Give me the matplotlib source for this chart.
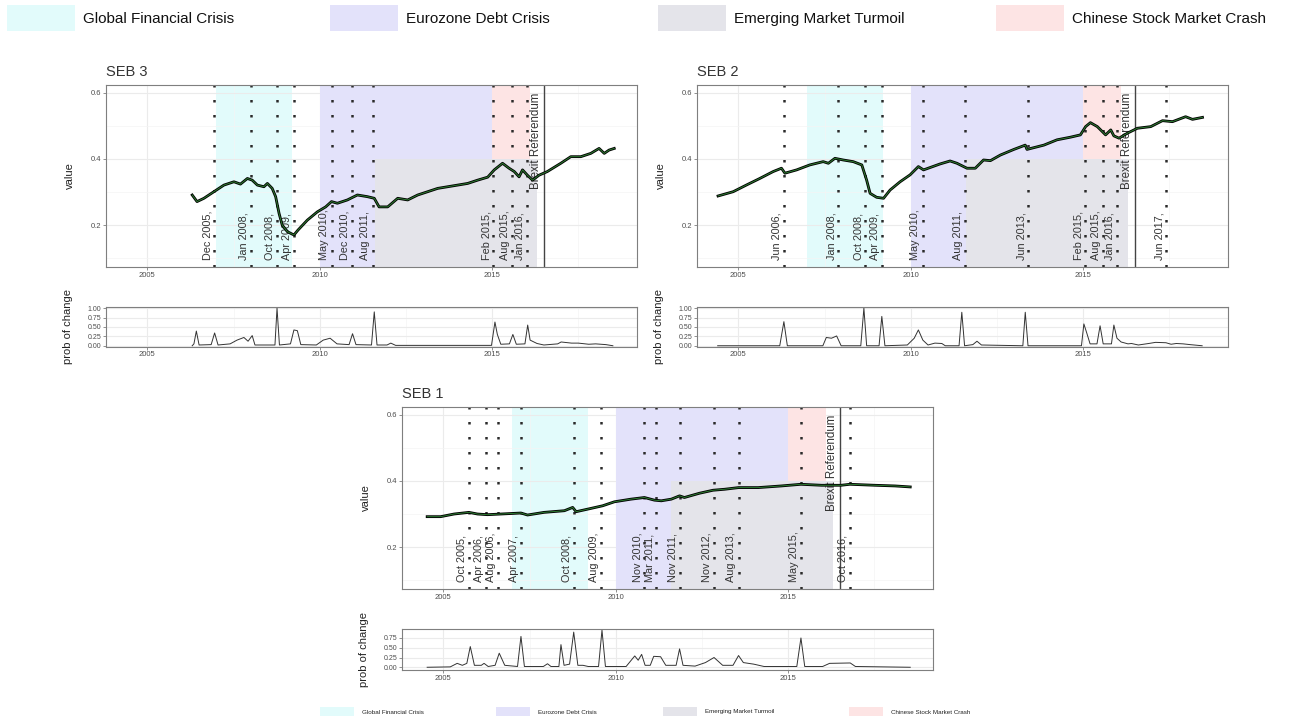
import matplotlib
matplotlib.use("Agg")
import matplotlib.pyplot as plt
from matplotlib.ticker import MultipleLocator

W, H = 1311, 722
plt.rcParams['font.family'] = ['Liberation Sans', 'DejaVu Sans']

# crisis periods (shared by all panels)
crisis_names = ["Global Financial Crisis", "Eurozone Debt Crisis",
                "Emerging Market Turmoil", "Chinese Stock Market Crash"]
crisis_colors = ["#e2fbfb", "#e3e2fa", "#e4e4ea", "#fde4e4"]
crisis_start = [2007.0, 2010.0, 2011.6, 2015.0]
crisis_end = [2009.2, 2015.0, 2016.3, 2016.1]
crisis_top = [0.7, 0.7, 0.4, 0.7]
brexit = 2016.5

# ---- SEB 3 ----
seb3_year = [2006.30, 2006.44, 2006.64, 2006.93, 2007.22, 2007.51, 2007.70, 2007.90,
             2008.04, 2008.19, 2008.38, 2008.48, 2008.62, 2008.72, 2008.82, 2008.91,
             2009.06, 2009.25, 2009.37, 2009.64, 2009.93, 2010.17, 2010.34, 2010.51,
             2010.80, 2011.09, 2011.38, 2011.58, 2011.72, 2011.97, 2012.26, 2012.55,
             2012.84, 2013.13, 2013.42, 2013.71, 2014.00, 2014.29, 2014.58, 2014.87,
             2015.06, 2015.30, 2015.49, 2015.64, 2015.78, 2015.88, 2016.02, 2016.17,
             2016.36, 2016.60, 2016.99, 2017.28, 2017.57, 2017.86, 2018.10, 2018.25,
             2018.39, 2018.54]
seb3_value = [0.291, 0.271, 0.281, 0.301, 0.321, 0.331, 0.324, 0.341,
              0.336, 0.321, 0.316, 0.326, 0.311, 0.286, 0.235, 0.200,
              0.180, 0.170, 0.185, 0.215, 0.240, 0.255, 0.271, 0.266,
              0.276, 0.291, 0.286, 0.281, 0.255, 0.255, 0.281, 0.276,
              0.291, 0.301, 0.311, 0.316, 0.321, 0.326, 0.336, 0.345,
              0.367, 0.387, 0.372, 0.362, 0.346, 0.367, 0.351, 0.336,
              0.351, 0.362, 0.387, 0.407, 0.407, 0.417, 0.432, 0.417,
              0.427, 0.432]
seb3_prob_year = [2006.30, 2006.35, 2006.42, 2006.50, 2006.85, 2006.95, 2007.05, 2007.40,
                  2007.60, 2007.80, 2007.92, 2008.04, 2008.12, 2008.70, 2008.76, 2008.83,
                  2009.15, 2009.25, 2009.35, 2009.45, 2009.90, 2010.10, 2010.30, 2010.50,
                  2010.85, 2010.95, 2011.05, 2011.50, 2011.58, 2011.66, 2011.95, 2012.06,
                  2012.20, 2014.98, 2015.08, 2015.15, 2015.25, 2015.50, 2015.60, 2015.70,
                  2015.95, 2016.03, 2016.10, 2016.30, 2016.50, 2016.90, 2017.00, 2017.30,
                  2017.50, 2017.80, 2018.00, 2018.30, 2018.50]
seb3_prob = [0.0, 0.05, 0.39, 0.02, 0.03, 0.34, 0.02, 0.05,
             0.15, 0.22, 0.12, 0.27, 0.02, 0.02, 1.00, 0.02,
             0.05, 0.42, 0.40, 0.03, 0.02, 0.15, 0.20, 0.05,
             0.03, 0.32, 0.03, 0.02, 0.90, 0.02, 0.02, 0.07,
             0.01, 0.01, 0.63, 0.30, 0.04, 0.05, 0.30, 0.04,
             0.05, 0.55, 0.15, 0.06, 0.02, 0.05, 0.10, 0.07,
             0.07, 0.04, 0.05, 0.03, 0.0]
seb3_breaks = [2006.94, 2008.00, 2008.76, 2009.25, 2010.34, 2010.92, 2011.53,
               2015.03, 2015.58, 2016.00]
seb3_labels = ["Dec 2005,", "Jan 2008,", "Oct 2008,", "Apr 2009,", "May 2010,",
               "Dec 2010,", "Aug 2011,", "Feb 2015,", "Aug 2015,", "Jan 2016,"]

# ---- SEB 2 ----
seb2_year = [2004.41, 2004.85, 2005.23, 2005.62, 2006.01, 2006.25, 2006.35, 2006.69,
             2007.07, 2007.46, 2007.61, 2007.80, 2008.04, 2008.33, 2008.58, 2008.72,
             2008.82, 2009.01, 2009.21, 2009.40, 2009.69, 2009.98, 2010.22, 2010.37,
             2010.85, 2011.14, 2011.34, 2011.63, 2011.87, 2012.11, 2012.31, 2012.60,
             2012.99, 2013.32, 2013.37, 2013.86, 2014.24, 2014.63, 2014.92, 2015.07,
             2015.21, 2015.41, 2015.65, 2015.80, 2015.89, 2016.04, 2016.28, 2016.57,
             2016.96, 2017.30, 2017.59, 2017.97, 2018.17, 2018.46]
seb2_value = [0.288, 0.301, 0.321, 0.341, 0.362, 0.372, 0.357, 0.367,
              0.382, 0.392, 0.387, 0.402, 0.397, 0.392, 0.382, 0.336,
              0.296, 0.284, 0.281, 0.306, 0.331, 0.352, 0.377, 0.367,
              0.385, 0.394, 0.387, 0.372, 0.372, 0.397, 0.395, 0.412,
              0.429, 0.442, 0.429, 0.442, 0.458, 0.466, 0.473, 0.498,
              0.510, 0.498, 0.473, 0.488, 0.470, 0.463, 0.478, 0.493,
              0.498, 0.516, 0.513, 0.528, 0.520, 0.526]
seb2_prob_year = [2004.40, 2006.20, 2006.32, 2006.42, 2007.45, 2007.55, 2007.70, 2007.85,
                  2007.98, 2008.55, 2008.64, 2008.72, 2009.08, 2009.16, 2009.25, 2009.90,
                  2010.10, 2010.22, 2010.35, 2010.50, 2010.70, 2010.90, 2011.00, 2011.40,
                  2011.48, 2011.56, 2011.80, 2011.92, 2012.05, 2013.25, 2013.32, 2013.40,
                  2014.95, 2015.02, 2015.10, 2015.20, 2015.40, 2015.49, 2015.58, 2015.82,
                  2015.89, 2015.98, 2016.10, 2016.30, 2016.40, 2016.60, 2016.90, 2017.10,
                  2017.40, 2017.55, 2017.70, 2017.90, 2018.10, 2018.45]
seb2_prob = [0.0, 0.0, 0.64, 0.0, 0.0, 0.22, 0.20, 0.26,
             0.0, 0.0, 1.00, 0.0, 0.0, 0.78, 0.0, 0.02,
             0.20, 0.42, 0.15, 0.02, 0.07, 0.06, 0.0, 0.0,
             0.89, 0.0, 0.03, 0.12, 0.02, 0.0, 0.89, 0.0,
             0.0, 0.58, 0.35, 0.05, 0.05, 0.53, 0.05, 0.05,
             0.55, 0.20, 0.10, 0.05, 0.06, 0.02, 0.06, 0.09,
             0.08, 0.04, 0.06, 0.05, 0.03, 0.0]
seb2_breaks = [2006.31, 2007.90, 2008.68, 2009.16, 2010.34, 2011.58, 2013.41,
               2015.06, 2015.57, 2015.98, 2017.41]
seb2_labels = ["Jun 2006,", "Jan 2008,", "Oct 2008,", "Apr 2009,", "May 2010,",
               "Aug 2011,", "Jun 2013,", "Feb 2015,", "Aug 2015,", "Jan 2016,",
               "Jun 2017,"]

# ---- SEB 1 ----
seb1_year = [2004.53, 2004.92, 2005.31, 2005.74, 2005.99, 2006.28, 2006.67, 2007.25,
             2007.44, 2007.92, 2008.51, 2008.75, 2008.85, 2009.28, 2009.62, 2009.96,
             2010.44, 2010.83, 2011.12, 2011.32, 2011.61, 2011.85, 2011.99, 2012.43,
             2012.82, 2013.16, 2013.56, 2014.13, 2014.80, 2015.37, 2015.97, 2016.53,
             2016.79, 2017.52, 2018.10, 2018.54]
seb1_value = [0.292, 0.292, 0.300, 0.305, 0.300, 0.298, 0.300, 0.303,
              0.297, 0.305, 0.310, 0.320, 0.307, 0.317, 0.325, 0.337,
              0.345, 0.350, 0.342, 0.340, 0.345, 0.355, 0.350, 0.363,
              0.372, 0.375, 0.380, 0.380, 0.385, 0.390, 0.387, 0.387,
              0.390, 0.387, 0.385, 0.382]
seb1_prob_year = [2004.53, 2005.20, 2005.40, 2005.55, 2005.68, 2005.78, 2005.90, 2006.10,
                  2006.18, 2006.30, 2006.50, 2006.62, 2006.78, 2007.15, 2007.25, 2007.35,
                  2007.90, 2008.02, 2008.12, 2008.35, 2008.41, 2008.50, 2008.66, 2008.78,
                  2008.90, 2009.05, 2009.20, 2009.50, 2009.60, 2009.70, 2010.30, 2010.55,
                  2010.65, 2010.75, 2010.85, 2011.00, 2011.10, 2011.30, 2011.45, 2011.75,
                  2011.85, 2011.95, 2012.30, 2012.60, 2012.85, 2013.10, 2013.40, 2013.56,
                  2013.70, 2014.00, 2014.30, 2015.25, 2015.37, 2015.48, 2016.00, 2016.20,
                  2016.80, 2016.95, 2018.54]
seb1_prob = [0.0, 0.01, 0.10, 0.05, 0.10, 0.53, 0.05, 0.05,
             0.10, 0.02, 0.05, 0.36, 0.05, 0.02, 0.79, 0.02,
             0.02, 0.09, 0.02, 0.02, 0.58, 0.05, 0.08, 0.90,
             0.05, 0.05, 0.02, 0.02, 0.95, 0.02, 0.02, 0.29,
             0.18, 0.33, 0.05, 0.05, 0.28, 0.27, 0.05, 0.05,
             0.47, 0.05, 0.03, 0.12, 0.25, 0.05, 0.05, 0.30,
             0.12, 0.08, 0.02, 0.02, 0.75, 0.02, 0.02, 0.10,
             0.11, 0.02, 0.0]
seb1_breaks = [2005.74, 2006.23, 2006.59, 2007.25, 2008.78, 2009.56, 2010.83,
               2011.17, 2011.85, 2012.85, 2013.56, 2015.37, 2016.79]
seb1_labels = ["Oct 2005,", "Apr 2006,", "Aug 2006,", "Apr 2007,", "Oct 2008,",
               "Aug 2009,", "Nov 2010,", "Mar 2011,", "Nov 2011,", "Nov 2012,",
               "Aug 2013,", "May 2015,", "Oct 2016,"]

XLIM = (2003.8, 2019.2)
GRID = "#ebebeb"
TXT = "#4d4d4d"
# drawing order of the shaded periods: grey band sits on top
shade_order = [0.5, 0.6, 0.8, 0.7]

fig = plt.figure(figsize=(W / 100, H / 100), dpi=100)


def px_axes(l, t, r, b):
    return fig.add_axes([l / W, 1 - b / H, (r - l) / W, (b - t) / H])


def style(ax):
    for s in ax.spines.values():
        s.set_color("#7f7f7f")
        s.set_linewidth(0.8)
    ax.tick_params(length=2, width=0.6, color="#7f7f7f", labelsize=5.5,
                   labelcolor=TXT, pad=1.5)
    ax.set_xlim(*XLIM)
    ax.xaxis.set_major_locator(MultipleLocator(5))
    ax.xaxis.set_minor_locator(MultipleLocator(2.5))
    ax.tick_params(which="minor", length=0)
    ax.grid(True, which="major", color=GRID, lw=0.8)
    ax.grid(True, which="minor", color="#f4f4f4", lw=0.5)
    ax.set_axisbelow(True)


def panel(l, t, r, b, lt, lb, title, yr, val, pyr, prob, breaks, labels, pylim, pticks):
    ax = px_axes(l, t, r, b)
    style(ax)
    ax.set_ylim(0.073, 0.624)
    ax.yaxis.set_major_locator(MultipleLocator(0.2))
    ax.yaxis.set_minor_locator(MultipleLocator(0.1))
    for s, e, c, top, z in zip(crisis_start, crisis_end, crisis_colors, crisis_top, shade_order):
        ax.fill_between([s, e], 0, top, color=c, lw=0, zorder=z)
    for x, lab in zip(breaks, labels):
        ax.axvline(x, color="#2a2a2a", lw=1.8, ls=(0, (1, 5)), zorder=2)
        ax.text(x - 0.06, 0.094, lab, rotation=90, ha="right", va="bottom",
                fontsize=7.8, color="#333333", zorder=3)
    ax.axvline(brexit, color="#444444", lw=1.0, zorder=2)
    ax.text(brexit - 0.05, 0.602, "Brexit Referendum", rotation=90, ha="right",
            va="top", fontsize=8.3, color="#333333", zorder=3)
    ax.plot(yr, val, color="black", lw=2.0, zorder=4)
    ax.plot(yr, val, color="#2e7d32", lw=0.7, zorder=5)
    fig.text((l - 36) / W, 1 - ((t + b) / 2) / H, "value", rotation=90,
             ha="center", va="center", fontsize=8, color="#222222")
    fig.text(l / W, 1 - (t - 13) / H, title, ha="left", va="center",
             fontsize=10.5, color="#333333")

    ax2 = px_axes(l, lt, r, lb)
    style(ax2)
    ax2.set_ylim(*pylim)
    ax2.set_yticks(pticks)
    ax2.set_yticklabels(["%.2f" % v for v in pticks], fontsize=5)
    ax2.plot(pyr, prob, color="#333333", lw=0.7)
    fig.text((l - 38) / W, 1 - ((lt + lb) / 2) / H, "prob of change", rotation=90,
             ha="center", va="center", fontsize=8, color="#222222")


panel(106, 85, 637, 267, 307, 346.5, "SEB 3", seb3_year, seb3_value,
      seb3_prob_year, seb3_prob, seb3_breaks, seb3_labels,
      (-0.02, 1.03), [0, 0.25, 0.5, 0.75, 1.0])
panel(697, 85, 1228, 267, 307, 346.5, "SEB 2", seb2_year, seb2_value,
      seb2_prob_year, seb2_prob, seb2_breaks, seb2_labels,
      (-0.02, 1.03), [0, 0.25, 0.5, 0.75, 1.0])
panel(402, 407, 933, 589, 629, 670, "SEB 1", seb1_year, seb1_value,
      seb1_prob_year, seb1_prob, seb1_breaks, seb1_labels,
      (-0.07, 0.98), [0, 0.25, 0.5, 0.75])

# top legend
top_patch_x = [7, 330, 658, 996]
for x0, c, name in zip(top_patch_x, crisis_colors, crisis_names):
    fig.patches.append(plt.Rectangle((x0 / W, 1 - 31 / H), 68 / W, 26 / H,
                                     transform=fig.transFigure, color=c, lw=0))
    fig.text((x0 + 76) / W, 1 - 19 / H, name, ha="left", va="center",
             fontsize=11, color="#111111")

# bottom legend
bot_patch_x = [320, 496, 663, 849]
for x0, c, name in zip(bot_patch_x, crisis_colors, crisis_names):
    fig.patches.append(plt.Rectangle((x0 / W, 1 - 716 / H), 34 / W, 9 / H,
                                     transform=fig.transFigure, color=c, lw=0))
    fig.text((x0 + 42) / W, 1 - 712 / H, name, ha="left", va="center",
             fontsize=4.5, color="#222222")

fig.savefig("out.png", dpi=100)
